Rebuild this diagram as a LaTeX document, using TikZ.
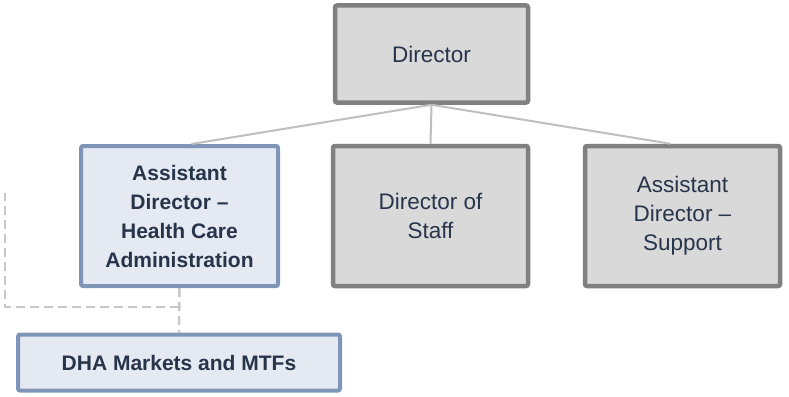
\documentclass[tikz,border=0pt]{standalone}
\usepackage{fontspec}
\setmainfont{Liberation Sans}
\usepackage{tikz}
\usetikzlibrary{positioning}

\definecolor{boxgray}{HTML}{D9D9D9}
\definecolor{edgegray}{HTML}{808080}
\definecolor{boxblue}{HTML}{E5E9F1}
\definecolor{edgeblue}{HTML}{7F95B8}
\definecolor{linkgray}{HTML}{BFBFBF}
\definecolor{dashgray}{HTML}{C8C8C8}
\definecolor{inktext}{HTML}{27344A}

\tikzset{
  office/.style={draw=edgegray, fill=boxgray, line width=4.5pt, rounded corners=2pt,
    minimum width=193pt, minimum height=97pt, align=center, text=inktext,
    font=\fontsize{22.5}{29}\selectfont},
  unit/.style={office, draw=edgeblue, fill=boxblue, line width=4pt,
    font=\fontsize{21}{29}\selectfont\bfseries},
  link/.style={linkgray, line width=2pt},
  dlink/.style={dashgray, line width=2.5pt, dash pattern=on 9pt off 5pt}
}

\begin{document}
\begin{tikzpicture}[x=1pt, y=-1pt]
    \useasboundingbox (0, 0) rectangle (789, 396);

    \node (dir) at (431.5, 54) [office] {Director};
    \node (hca) at (179.5, 216) [unit, minimum width=197pt, minimum height=140pt] {Assistant\\Director --\\Health Care\\Administration};
    \node (dos) at (430.5, 216) [office, minimum width=195pt, minimum height=140pt] {Director of\\Staff};
    \node (sup) at (682.5, 216) [office, minimum width=195pt, minimum height=140pt] {Assistant\\Director --\\Support};
    \node (dha) at (179, 362.5) [unit, minimum width=322pt, minimum height=56pt] {DHA Markets and MTFs};

    \draw [link] (dir.south) -- ([xshift=12pt]hca.north);
    \draw [link] (dir.south) -- (dos.north);
    \draw [link] (dir.south) -- ([xshift=-12pt]sup.north);

    \coordinate (bend) at (179, 307);
    \coordinate (loose) at (5, 193);
    \draw [dlink] (hca.south) -- (dha.north);
    \draw [dlink] (bend) -| (loose);
  \end{tikzpicture}
\end{document}
